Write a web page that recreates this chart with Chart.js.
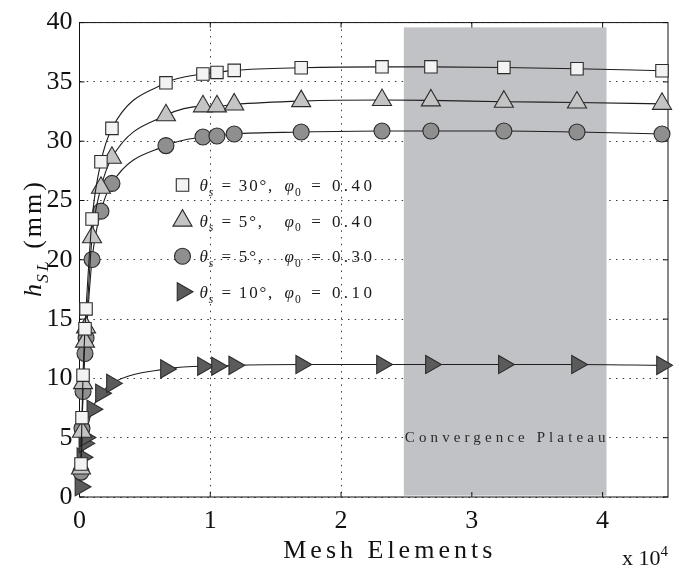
<!DOCTYPE html>
<html>
<head>
<meta charset="utf-8">
<script src="https://cdn.jsdelivr.net/npm/chart.js@4.4.1/dist/chart.umd.min.js"></script>
<style>
  html, body { margin: 0; padding: 0; background: #ffffff; }
  canvas { display: block; }
</style>
</head>
<body>
<canvas id="chart" width="681" height="570"></canvas>
<script>
// Mesh sizes (number of elements) used for each run
const meshCoarse = [115, 190, 270, 420, 500, 960, 1640, 2480, 6610, 9440, 10510, 11830, 16950, 23130, 26870, 32450, 38040, 44540];
const meshPhi010 = [70, 220, 370, 450, 980, 1640, 2480, 6610, 9440, 10510, 11830, 16950, 23130, 26870, 32450, 38040, 44540];

// Computed h_SL (mm) for each case
const hTheta30Phi040 = [2.78, 6.69, 10.27, 14.19, 15.86, 23.44, 28.27, 31.08, 34.92, 35.67, 35.80, 35.97, 36.19, 36.27, 36.27, 36.22, 36.11, 35.94];
const hTheta5Phi040  = [2.40, 5.50, 9.60, 13.10, 14.30, 21.90, 26.07, 28.60, 32.19, 32.94, 32.94, 33.10, 33.38, 33.47, 33.44, 33.33, 33.26, 33.15];
const hTheta5Phi030  = [2.10, 5.80, 8.90, 12.10, 13.40, 20.03, 24.10, 26.44, 29.63, 30.36, 30.44, 30.61, 30.77, 30.86, 30.86, 30.86, 30.77, 30.61];
const hTheta10Phi010 = [0.86, 3.36, 4.52, 5.02, 7.40, 8.75, 9.58, 10.80, 11.03, 11.03, 11.10, 11.17, 11.17, 11.17, 11.17, 11.17, 11.10];

// Axis ranges and ticks
const xTicks = [0, 10000, 20000, 30000, 40000];
const xMax = 45000;
const yMax = 40;
const yStep = 5;

// Range of mesh sizes regarded as converged
const plateauMesh = [24800, 40300];
const plateauH = [0.12, 39.6];
const plateauLabel = 'Convergence Plateau';

const SERIF = '"Liberation Serif", "Times New Roman", serif';
const EDGE = '#2b2b2b';

const seriesDefs = [
  { theta: '30°', phi: '0.40', x: meshCoarse, y: hTheta30Phi040, style: 'rect',     r: 8.8,  rot: 0,  fill: '#f3f3f3' },
  { theta: '5°',  phi: '0.40', x: meshCoarse, y: hTheta5Phi040,  style: 'triangle', r: 11,   rot: 0,  fill: '#c4c4c4' },
  { theta: '5°',  phi: '0.30', x: meshCoarse, y: hTheta5Phi030,  style: 'circle',   r: 8,    rot: 0,  fill: '#8f8f8f' },
  { theta: '10°', phi: '0.10', x: meshPhi010, y: hTheta10Phi010, style: 'triangle', r: 10.5, rot: 90, fill: '#5b5b5b' }
];

const datasets = seriesDefs.map(s => ({
  label: 'θs = ' + s.theta + ', φ0 = ' + s.phi,
  data: s.x.map((m, i) => ({ x: m, y: s.y[i] })),
  borderColor: '#1e1e1e',
  borderWidth: 1.1,
  cubicInterpolationMode: 'monotone',
  pointStyle: s.style,
  pointRadius: s.r,
  pointRotation: s.rot,
  pointBackgroundColor: s.fill,
  pointBorderColor: EDGE,
  pointBorderWidth: 1.1,
  fill: false,
  clip: false
}));

// Draws text made of runs (normal / italic / subscript / superscript)
function drawRuns(ctx, runs, x, y, baseSize, spacing) {
  let cx = x;
  runs.forEach(run => {
    const size = run.sub || run.sup ? baseSize * 0.68 : baseSize;
    ctx.font = (run.italic ? 'italic ' : '') + size + 'px ' + SERIF;
    ctx.letterSpacing = (run.sp !== undefined ? run.sp : spacing) + 'px';
    const dy = run.sub ? baseSize * 0.28 : (run.sup ? -baseSize * 0.42 : 0);
    ctx.fillText(run.t, cx + (run.dx || 0), y + dy);
    cx += ctx.measureText(run.t).width + (run.dx || 0);
  });
  return cx;
}

function runsWidth(ctx, runs, baseSize, spacing) {
  let w = 0;
  runs.forEach(run => {
    const size = run.sub || run.sup ? baseSize * 0.68 : baseSize;
    ctx.font = (run.italic ? 'italic ' : '') + size + 'px ' + SERIF;
    ctx.letterSpacing = (run.sp !== undefined ? run.sp : spacing) + 'px';
    w += ctx.measureText(run.t).width + (run.dx || 0);
  });
  return w;
}

const plateauPlugin = {
  id: 'plateau',
  beforeDatasetsDraw(chart) {
    const { ctx, scales: { x, y } } = chart;
    const x0 = x.getPixelForValue(plateauMesh[0]);
    const x1 = x.getPixelForValue(plateauMesh[1]);
    const y0 = y.getPixelForValue(plateauH[1]);
    const y1 = y.getPixelForValue(plateauH[0]);
    ctx.save();
    ctx.fillStyle = '#c1c2c5';
    ctx.fillRect(x0, y0, x1 - x0, y1 - y0);
    ctx.fillStyle = '#2a2a2a';
    ctx.font = '15px ' + SERIF;
    ctx.letterSpacing = '4.1px';
    ctx.textAlign = 'center';
    ctx.textBaseline = 'middle';
    ctx.fillText(plateauLabel, (x0 + x1) / 2 + 2, y.getPixelForValue(5));
    ctx.restore();

    // axes box with inward tick marks
    const a = chart.chartArea;
    ctx.save();
    ctx.strokeStyle = '#111';
    ctx.lineWidth = 1;
    ctx.strokeRect(a.left, a.top, a.right - a.left, a.bottom - a.top);
    ctx.beginPath();
    xTicks.forEach(v => {
      const px = x.getPixelForValue(v);
      ctx.moveTo(px, a.bottom); ctx.lineTo(px, a.bottom - 5);
      ctx.moveTo(px, a.top); ctx.lineTo(px, a.top + 5);
    });
    for (let v = 0; v <= yMax; v += yStep) {
      const py = y.getPixelForValue(v);
      ctx.moveTo(a.left, py); ctx.lineTo(a.left + 5, py);
      ctx.moveTo(a.right, py); ctx.lineTo(a.right - 5, py);
    }
    ctx.stroke();
    ctx.restore();
  }
};

const annotationPlugin = {
  id: 'annotations',
  afterDraw(chart) {
    const { ctx, chartArea: a } = chart;
    ctx.save();
    ctx.fillStyle = '#111';
    ctx.textBaseline = 'alphabetic';
    ctx.textAlign = 'left';

    // legend
    const legendX = a.left + 103;
    const legendY0 = 185;
    const legendGap = 35.6;
    const phiX = a.left + 205;
    seriesDefs.forEach((s, i) => {
      const cy = legendY0 + i * legendGap;
      ctx.save();
      ctx.fillStyle = s.fill;
      ctx.strokeStyle = EDGE;
      ctx.lineWidth = 1.1;
      Chart.helpers.drawPoint(ctx, { pointStyle: s.style, radius: s.r, rotation: s.rot, borderWidth: 1.1 }, legendX, cy);
      ctx.restore();
      ctx.fillStyle = '#1a1a1a';
      drawRuns(ctx, [
        { t: 'θ', italic: true, sp: 1 },
        { t: 's', italic: true, sub: true, sp: 2 },
        { t: ' = ' + s.theta + ',' }
      ], legendX + 17, cy + 6, 17, 1.8);
      drawRuns(ctx, [
        { t: 'φ', italic: true, sp: 1 },
        { t: '0', sub: true, sp: 3 },
        { t: ' = ' + s.phi, sp: 3.4 }
      ], phiX, cy + 6, 17, 3);
    });

    // x axis title and exponent
    ctx.fillStyle = '#111';
    ctx.font = '26px ' + SERIF;
    ctx.letterSpacing = '4px';
    ctx.textAlign = 'center';
    ctx.fillText('Mesh Elements', (a.left + a.right) / 2 + 16, 558);
    ctx.textAlign = 'left';
    drawRuns(ctx, [{ t: 'x 10', sp: 0 }, { t: '4', sup: true, sp: 0 }], 622, 565, 22, 0);

    // y axis title
    ctx.translate(41, 238);
    ctx.rotate(-Math.PI / 2);
    const runs = [
      { t: 'h', italic: true, sp: 1 },
      { t: 'SL', italic: true, sub: true, sp: 3 },
      { t: ' (mm)', sp: 3 }
    ];
    const w = runsWidth(ctx, runs, 26, 2);
    drawRuns(ctx, runs, -w / 2, 0, 26, 2);
    ctx.restore();
  }
};

new Chart(document.getElementById('chart'), {
  type: 'line',
  data: { datasets },
  plugins: [plateauPlugin, annotationPlugin],
  options: {
    responsive: false,
    animation: false,
    devicePixelRatio: 1,
    events: [],
    layout: { padding: { top: 17, right: 13, left: 0, bottom: 0 } },
    plugins: { legend: { display: false }, tooltip: { enabled: false } },
    scales: {
      x: {
        type: 'linear',
        min: 0,
        max: xMax,
        afterBuildTicks: scale => { scale.ticks = xTicks.map(v => ({ value: v })); },
        afterFit: scale => { scale.height = 73; },
        ticks: {
          callback: v => String(v / 10000),
          font: { family: SERIF, size: 26 },
          color: '#111',
          padding: 9,
          maxRotation: 0
        },
        grid: { color: '#3a3a3a', lineWidth: 1, drawTicks: false },
        border: { display: false, dash: [1.5, 5.2] }
      },
      y: {
        type: 'linear',
        min: 0,
        max: yMax,
        afterFit: scale => { scale.width = 79.5; },
        ticks: {
          stepSize: yStep,
          font: { family: SERIF, size: 26 },
          color: '#111',
          padding: 7
        },
        grid: { color: '#3a3a3a', lineWidth: 1, drawTicks: false },
        border: { display: false, dash: [1.5, 5.2] }
      }
    }
  }
});
</script>
</body>
</html>
